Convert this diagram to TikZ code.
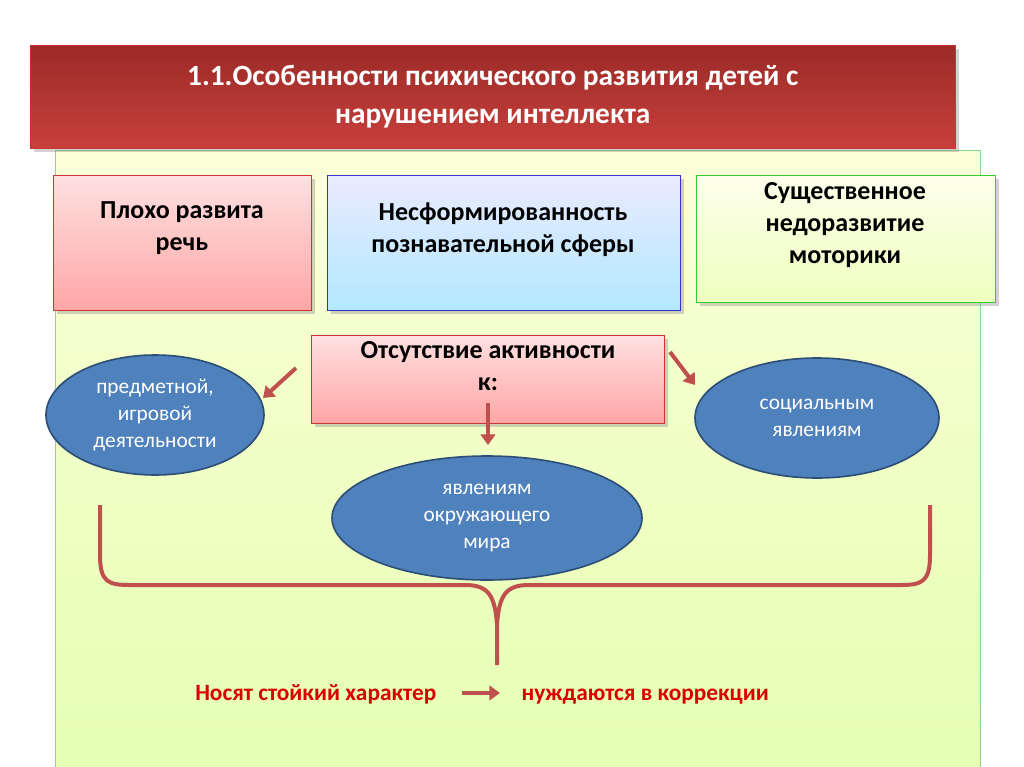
\documentclass[tikz,border=0pt]{standalone}
\usepackage{fontspec}
\setmainfont{Carlito}
\usetikzlibrary{arrows.meta,shadows,calc,shapes.geometric}
\definecolor{arr}{HTML}{C0504D}
\definecolor{ellf}{HTML}{4F81BD}
\definecolor{elld}{HTML}{2C4D75}
\definecolor{tt1}{HTML}{9B2A27}
\definecolor{tt2}{HTML}{C8403C}
\tikzset{
  box/.style={draw=#1!60!gray, minimum width=0, inner sep=0, drop shadow={opacity=0.35,shadow xshift=3pt,shadow yshift=-3pt}},
  ell/.style={ellipse, draw=elld, line width=1.2pt, fill=ellf, text=white, align=center, font=\fontsize{16}{20}\selectfont, inner sep=0},
  lbl/.style={align=center, font=\bfseries\fontsize{19.5}{24}\selectfont},
  redarr/.style={draw=arr, line width=3pt, -{Triangle[length=8pt,width=11pt]}},
  bottxt/.style={text=red!85!black, font=\bfseries\fontsize{17.5}{21}\selectfont},
}
\begin{document}
\begin{tikzpicture}[x=0.75pt,y=-0.75pt]
\useasboundingbox (0,0) rectangle (1024,767);
\fill[white] (0,0) rectangle (1024,767);
% green panel
\path[top color=green!8!yellow!15!white, bottom color=green!35!yellow!30!white, draw=green!50!gray!60] (55,150) rectangle (980,767);
% title
\node[box=red, top color=tt1, bottom color=tt2, minimum width=925*0.75pt, minimum height=103*0.75pt, anchor=north west, text=white, align=center, font=\bfseries\fontsize{22}{29}\selectfont] (title) at (30,45) {1.1.Особенности психического развития детей с\\нарушением интеллекта};
% top boxes
\path[box=red, top color=red!12, bottom color=red!35] (53,175) rectangle (311,310);
\node[lbl] (speech) at (182,228) {Плохо развита\\речь};
\path[box=blue, top color=blue!8, bottom color=blue!30!cyan!30] (327,175) rectangle (680,310);
\node[lbl] (cogn) at (503,230) {Несформированность\\познавательной сферы};
\path[box=green, top color=green!4!yellow!8, bottom color=green!25!yellow!25] (696,175) rectangle (995,302);
\node[lbl] (motor) at (845,225) {Существенное\\недоразвитие\\моторики};
% center box
\path[box=red, top color=red!12, bottom color=red!35] (311,335) rectangle (664,423);
\node[lbl] (act) at (488,366) {Отсутствие активности\\к:};
\coordinate (actL) at (296,368);
\coordinate (actB) at (488,403);
\coordinate (actR) at (670,352);
% ellipses
\node[ell, minimum width=218*0.75pt, minimum height=120*0.75pt] (e1) at (155,415) {предметной,\\игровой\\деятельности};
\node[ell, minimum width=244*0.75pt, minimum height=120*0.75pt] (e2) at (817,418) {социальным\\явлениям};
\node[ell, minimum width=310*0.75pt, minimum height=124*0.75pt] (e3) at (487,518) {явлениям\\окружающего\\мира};
\draw[redarr] (actL) -- (263,398);
\draw[redarr] (actB) -- (488,445);
\draw[redarr] (actR) -- (695,385);
% brace
\coordinate (bL) at (100,505);
\coordinate (bR) at (930,505);
\coordinate (bT) at (497,665);
\draw[arr, line width=3pt, line join=round]
  (bL) -- (100,555) .. controls (100,582) and (108,585) .. (130,585) -- (465,585)
  .. controls (488,585) and (495,595) .. (497,625) -- (bT);
\draw[arr, line width=3pt, line join=round]
  (bR) -- (930,555) .. controls (930,582) and (922,585) .. (900,585) -- (529,585)
  .. controls (506,585) and (499,595) .. (497,625);
% bottom text
\node[bottxt, anchor=base east] (t1) at (441,700) {Носят стойкий характер};
\node[bottxt, anchor=base west] (t2) at (517,700) {нуждаются в коррекции};
\draw[redarr] (462,693) -- (500,693);
\end{tikzpicture}
\end{document}
